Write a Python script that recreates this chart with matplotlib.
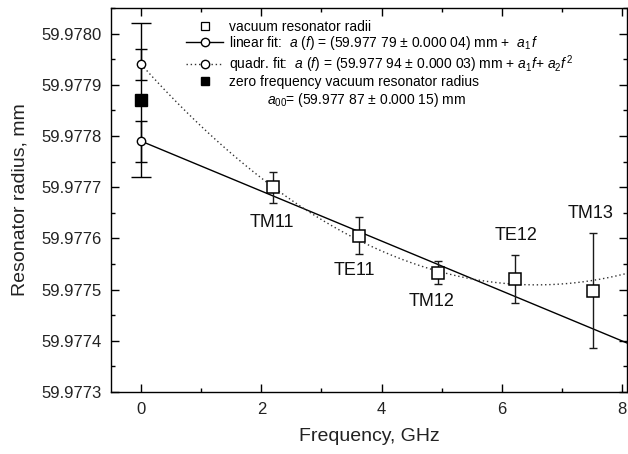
import numpy as np
import matplotlib
matplotlib.use("Agg")
import matplotlib.pyplot as plt
from matplotlib.lines import Line2D
from matplotlib.ticker import MultipleLocator, FormatStrFormatter

plt.rcParams['font.family'] = ['Liberation Sans', 'DejaVu Sans']
plt.rcParams['mathtext.fontset'] = 'custom'
plt.rcParams['mathtext.rm'] = 'Liberation Sans'
plt.rcParams['mathtext.it'] = 'Liberation Sans:italic'

# measured resonator radii
modes = ["TM11", "TE11", "TM12", "TE12", "TM13"]
freq = [2.20, 3.63, 4.94, 6.21, 7.52]
radius = [59.977700, 59.977605, 59.977533, 59.977521, 59.977498]
radius_err = [0.000030, 0.000036, 0.000023, 0.000047, 0.000112]

# label placement (data coords)
label_x = [2.18, 3.54, 4.83, 6.23, 7.48]
label_y = [59.977631, 59.977537, 59.977476, 59.977606, 59.977649]

# fit results
lin_a0, lin_a0_err, lin_a1 = 59.97779, 0.00004, -0.0000488
quad_a0, quad_a0_err, quad_a1, quad_a2 = 59.97794, 0.00003, -0.000131, 0.00000996
zero_a00, zero_a00_err = 59.97787, 0.00015

fig = plt.figure(figsize=(6.28, 4.54), dpi=100)
ax = fig.add_axes([111/628, 1-392/454, (627-111)/628, (392-8)/454])

xmin, xmax = -0.5, 8.08
ax.set_xlim(xmin, xmax)
ax.set_ylim(59.9773, 59.97805)

f = np.linspace(0, xmax + 0.1, 300)
ax.plot(f, lin_a0 + lin_a1 * f, color='black', lw=1.0, zorder=2)
ax.plot(f, quad_a0 + quad_a1 * f + quad_a2 * f**2, color='#333333', lw=1.0,
        ls=(0, (1, 2)), zorder=2)

# zero-frequency error bars
ax.errorbar([0], [zero_a00], yerr=[zero_a00_err], fmt='none', ecolor='black',
            elinewidth=1.0, capsize=7, capthick=1.0, zorder=3)
ax.errorbar([0], [lin_a0], yerr=[lin_a0_err], fmt='none', ecolor='black',
            elinewidth=1.0, capsize=4.5, capthick=1.0, zorder=3)
ax.errorbar([0], [quad_a0], yerr=[quad_a0_err], fmt='none', ecolor='black',
            elinewidth=1.0, capsize=4.5, capthick=1.0, zorder=3)
ax.plot([0], [zero_a00], 's', ms=8.6, mfc='black', mec='black', zorder=5)
ax.plot([0], [lin_a0], 'o', ms=6, mfc='white', mec='black', mew=1.0, zorder=5)
ax.plot([0], [quad_a0], 'o', ms=6, mfc='white', mec='black', mew=1.0, zorder=5)

# data points
ax.errorbar(freq, radius, yerr=radius_err, fmt='none', ecolor='#1a1a1a',
            elinewidth=1.0, capsize=3, capthick=1.0, zorder=3)
ax.plot(freq, radius, 's', ms=8.6, mfc='white', mec='black', mew=1.1, zorder=5)

for m, lx, ly in zip(modes, label_x, label_y):
    ax.text(lx, ly, m, fontsize=13, ha='center', va='center', color='#111111')

# axes styling
ax.xaxis.set_major_locator(MultipleLocator(2))
ax.xaxis.set_minor_locator(MultipleLocator(1))
ax.yaxis.set_major_locator(MultipleLocator(0.0001))
ax.yaxis.set_minor_locator(MultipleLocator(0.00005))
ax.yaxis.set_major_formatter(FormatStrFormatter('%.4f'))
ax.tick_params(which='both', direction='in', top=True, right=True,
               labelsize=12, colors='black', labelcolor='#222222')
ax.tick_params(which='major', length=5.5, width=1.0, pad=7)
ax.tick_params(which='minor', length=3, width=1.0)
for s in ax.spines.values():
    s.set_linewidth(1.0)

ax.set_xlabel("Frequency, GHz", fontsize=14, color='#222222', labelpad=8)
ax.set_ylabel("Resonator radius, mm", fontsize=14, color='#222222', labelpad=9)

# legend
handles = [
    Line2D([], [], ls='none', marker='s', ms=5.5, mfc='white', mec='black', mew=0.9),
    Line2D([], [], ls='-', color='black', lw=1.0, marker='o', ms=6, mfc='white', mec='black', mew=1.0),
    Line2D([], [], ls=(0, (1, 2)), color='#333333', lw=1.0, marker='o', ms=6, mfc='white', mec='black', mew=1.0),
    Line2D([], [], ls='none', marker='s', ms=5.5, mfc='black', mec='black'),
]
labels = [
    "vacuum resonator radii",
    r"linear fit:  $a$ ($f$) = (59.977 79 ± 0.000 04) mm +  $a_{1}\,f$",
    r"quadr. fit:  $a$ ($f$) = (59.977 94 ± 0.000 03) mm + $a_{1}f$+ $a_{2}f^{\,2}$",
    "zero frequency vacuum resonator radius",
]
leg = ax.legend(handles, labels, loc='upper left', bbox_to_anchor=(0.145, 0.97),
                frameon=False, fontsize=10, handlelength=2.7, handletextpad=0.4,
                borderpad=0, borderaxespad=0, labelspacing=0.05)
ax.text(0.302, 0.76, r"$a_{00}$= (59.977 87 ± 0.000 15) mm", transform=ax.transAxes,
        fontsize=10, ha='left', va='center')

fig.savefig("out.png", dpi=100)
